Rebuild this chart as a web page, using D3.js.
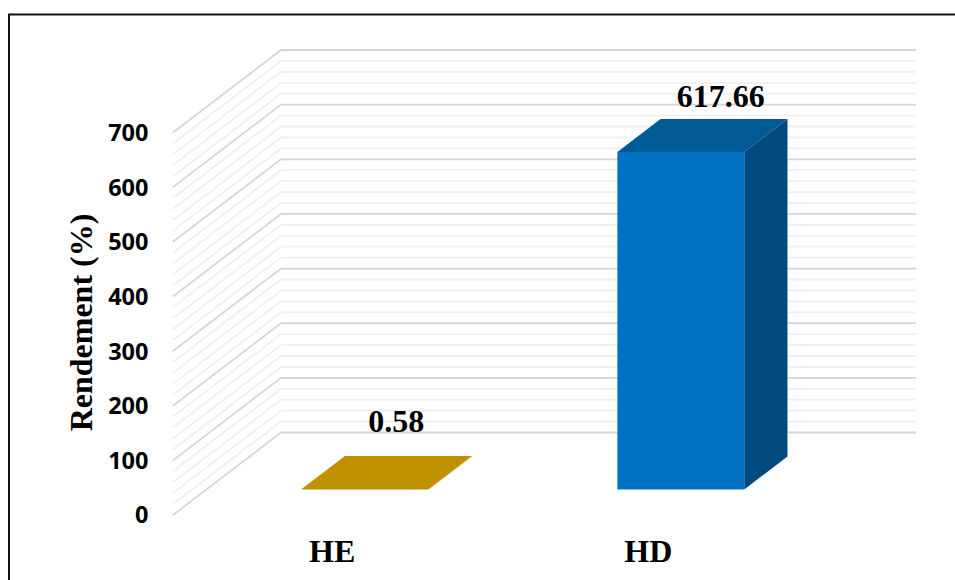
<!DOCTYPE html>
<html><head><meta charset="utf-8">
<script src="https://cdn.jsdelivr.net/npm/d3@7"></script>
<style>html,body{margin:0;padding:0;background:#fff;overflow:hidden}svg{display:block}</style>
</head><body><svg id="c" width="955" height="580"></svg>
<script>
const categories = ["HE", "HD"];
const values = [0.58, 617.66];
const valueLabels = ["0.58", "617.66"];
const yTicks = [0, 100, 200, 300, 400, 500, 600, 700];
const yTitle = "Rendement (%)";
const frontColors = ["#BF9000", "#0070C0"];
const topColors = ["#BF9000", "#005A96"];
const sideColors = ["#BF9000", "#004A80"];

const svg = d3.select("#c");
const depth = {dx: 108, dy: -82.5};
const y = d3.scaleLinear().domain([0, 700]).range([515, 132.5]);
const x = d3.scaleBand().domain(categories).range([173.5, 805.5]).paddingInner(0.598).paddingOuter(0.3);
const wallLeft = 173, wallRight = 916;
const zFront = 0.31, zBack = 0.71;
const pt = (sx, v, z) => [sx + depth.dx * z, y(v) + depth.dy * z];
const poly = pts => pts.map(p => p.map(n => n.toFixed(2)).join(",")).join(" ");

// frame
svg.append("path").attr("d", "M9,580V14.5H955").attr("fill", "none").attr("stroke", "#111").attr("stroke-width", 2);

// walls: gridlines every 20 units, heavier every 100
const gridVals = d3.range(0, 701, 20);
const grid = svg.append("g").attr("fill", "none");
gridVals.slice().sort((a, b) => (a % 100 === 0) - (b % 100 === 0)).forEach(v => {
  const major = v % 100 === 0;
  const a = pt(wallLeft, v, 0), b = pt(wallLeft, v, 1), c = [wallRight, b[1]];
  grid.append("polyline").attr("points", poly([a, b, c]))
    .attr("stroke", major ? "#d6d6d6" : "#f0f0f0").attr("stroke-width", 1.8);
});

// bars
categories.forEach((cat, i) => {
  const x0 = x(cat), x1 = x0 + x.bandwidth(), v = values[i];
  const g = svg.append("g");
  g.append("polygon").attr("fill", sideColors[i]).attr("points", poly([
    pt(x1, 0, zFront), pt(x1, 0, zBack), pt(x1, v, zBack), pt(x1, v, zFront)]));
  g.append("polygon").attr("fill", topColors[i]).attr("points", poly([
    pt(x0, v, zFront), pt(x0, v, zBack), pt(x1, v, zBack), pt(x1, v, zFront)]));
  g.append("polygon").attr("fill", frontColors[i]).attr("points", poly([
    pt(x0, 0, zFront), pt(x1, 0, zFront), pt(x1, v, zFront), pt(x0, v, zFront)]));
});

// value axis labels
svg.append("g").selectAll("text").data(yTicks).join("text")
  .attr("x", 148.5).attr("y", d => y(d)).attr("dy", "0.36em").attr("text-anchor", "end")
  .attr("font-family", "'Open Sans'").attr("font-weight", 700).attr("font-size", 23.5).attr("fill", "#000")
  .text(d => d);

// y title
svg.append("text").attr("transform", "translate(92,322.5) rotate(-90)").attr("text-anchor", "middle")
  .attr("font-family", "'Liberation Serif'").attr("font-weight", 700).attr("font-size", 32).attr("fill", "#000")
  .text(yTitle);

// category labels
svg.append("g").selectAll("text").data(categories).join("text")
  .attr("x", (d, i) => x(d) + x.bandwidth() / 2 + (i === 0 ? 0.5 : 1)).attr("y", 561.5).attr("text-anchor", "middle")
  .attr("font-family", "'Liberation Serif'").attr("font-weight", 700).attr("font-size", 32).attr("fill", "#000")
  .text(d => d);

// value labels
const labelDx = [64.5, 73.4], labelDy = [-57, -45.3];
svg.append("g").selectAll("text").data(categories).join("text")
  .attr("x", (d, i) => x(d) + x.bandwidth() / 2 + labelDx[i])
  .attr("y", (d, i) => pt(0, values[i], zFront)[1] + labelDy[i])
  .attr("text-anchor", "middle")
  .attr("font-family", "'Liberation Serif'").attr("font-weight", 700).attr("font-size", 32).attr("fill", "#000")
  .text((d, i) => valueLabels[i]);
</script></body></html>
